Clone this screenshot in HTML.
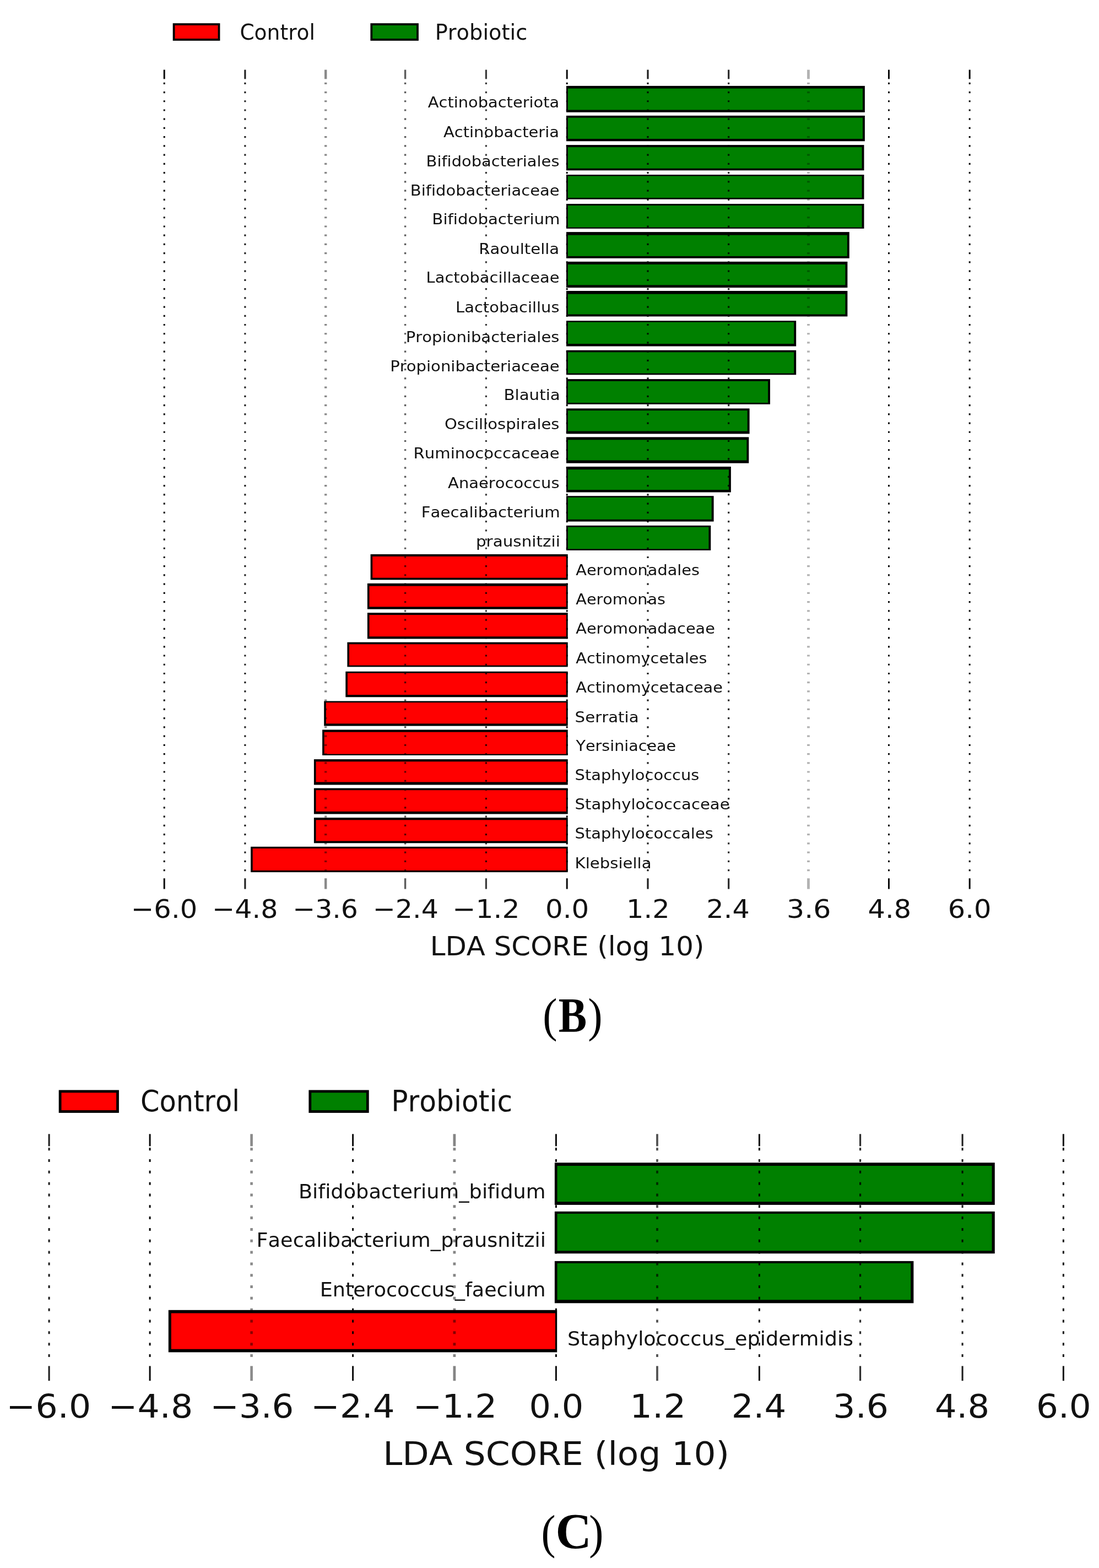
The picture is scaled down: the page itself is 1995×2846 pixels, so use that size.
<!DOCTYPE html>
<html lang="en"><head><meta charset="utf-8"><title>LEfSe LDA scores</title>
<style>
html,body{margin:0;padding:0;background:#fff}
body{width:1995px;height:2846px;overflow:hidden}
svg{display:block}
text{font-family:"DejaVu Sans", "Liberation Sans", sans-serif;font-kerning:none;font-variant-ligatures:none;font-feature-settings:'liga' 0,'kern' 0,'clig' 0}
text.pn{font-family:"Liberation Serif", "DejaVu Serif", serif}
</style>
</head><body>
<svg width="1995" height="2846" viewBox="0 0 1995 2846">
<rect width="1995" height="2846" fill="#fff"/>
<defs><filter id="soft" x="-3%" y="-3%" width="106%" height="106%" color-interpolation-filters="sRGB"><feGaussianBlur stdDeviation="0.7"/></filter></defs>
<g id="chart-b" filter="url(#soft)">
<rect x="1028.00" y="155.90" width="541.90" height="47.90" fill="#000"/>
<rect x="1030.80" y="160.60" width="535.20" height="38.90" fill="#008000"/>
<rect x="1028.00" y="209.90" width="541.90" height="46.40" fill="#000"/>
<rect x="1030.80" y="213.70" width="535.20" height="38.30" fill="#008000"/>
<rect x="1028.00" y="263.10" width="540.50" height="46.20" fill="#000"/>
<rect x="1030.80" y="267.10" width="533.80" height="38.60" fill="#008000"/>
<rect x="1028.00" y="317.10" width="540.50" height="44.60" fill="#000"/>
<rect x="1030.80" y="319.50" width="533.80" height="39.50" fill="#008000"/>
<rect x="1028.00" y="370.00" width="540.50" height="44.90" fill="#000"/>
<rect x="1030.80" y="373.00" width="533.80" height="39.70" fill="#008000"/>
<rect x="1028.00" y="421.10" width="513.80" height="47.70" fill="#000"/>
<rect x="1030.80" y="426.70" width="507.10" height="38.20" fill="#008000"/>
<rect x="1028.00" y="474.90" width="510.40" height="47.20" fill="#000"/>
<rect x="1030.80" y="479.90" width="503.70" height="37.50" fill="#008000"/>
<rect x="1028.00" y="528.00" width="510.40" height="46.40" fill="#000"/>
<rect x="1030.80" y="533.70" width="503.70" height="36.80" fill="#008000"/>
<rect x="1028.00" y="582.20" width="417.20" height="46.30" fill="#000"/>
<rect x="1030.80" y="584.70" width="410.50" height="39.30" fill="#008000"/>
<rect x="1028.00" y="635.70" width="417.20" height="44.60" fill="#000"/>
<rect x="1030.80" y="639.30" width="410.50" height="38.30" fill="#008000"/>
<rect x="1028.00" y="688.10" width="370.00" height="45.70" fill="#000"/>
<rect x="1030.80" y="691.80" width="363.30" height="39.20" fill="#008000"/>
<rect x="1028.00" y="741.40" width="332.60" height="46.00" fill="#000"/>
<rect x="1030.80" y="745.10" width="325.90" height="37.50" fill="#008000"/>
<rect x="1028.00" y="793.40" width="331.30" height="47.30" fill="#000"/>
<rect x="1030.80" y="798.30" width="324.60" height="37.20" fill="#008000"/>
<rect x="1028.00" y="847.00" width="298.90" height="46.50" fill="#000"/>
<rect x="1030.80" y="852.20" width="292.20" height="36.90" fill="#008000"/>
<rect x="1028.00" y="900.20" width="267.60" height="46.40" fill="#000"/>
<rect x="1030.80" y="902.80" width="260.90" height="40.00" fill="#008000"/>
<rect x="1028.00" y="953.90" width="262.30" height="45.00" fill="#000"/>
<rect x="1030.80" y="956.70" width="255.60" height="39.70" fill="#008000"/>
<rect x="672.60" y="1006.00" width="358.10" height="46.40" fill="#000"/>
<rect x="676.20" y="1010.00" width="351.70" height="38.70" fill="#f00"/>
<rect x="666.90" y="1058.90" width="363.80" height="46.80" fill="#000"/>
<rect x="670.50" y="1063.70" width="357.40" height="37.70" fill="#f00"/>
<rect x="666.90" y="1112.20" width="363.80" height="47.30" fill="#000"/>
<rect x="670.50" y="1116.10" width="357.40" height="39.20" fill="#f00"/>
<rect x="630.40" y="1165.70" width="400.30" height="44.70" fill="#000"/>
<rect x="634.00" y="1169.30" width="393.90" height="38.40" fill="#f00"/>
<rect x="627.30" y="1218.80" width="403.40" height="46.50" fill="#000"/>
<rect x="630.90" y="1221.70" width="397.00" height="39.50" fill="#f00"/>
<rect x="588.20" y="1272.50" width="442.50" height="45.10" fill="#000"/>
<rect x="591.80" y="1275.10" width="436.10" height="38.30" fill="#f00"/>
<rect x="585.10" y="1324.50" width="445.60" height="46.40" fill="#000"/>
<rect x="588.70" y="1328.70" width="439.20" height="39.90" fill="#f00"/>
<rect x="569.90" y="1378.10" width="460.80" height="46.40" fill="#000"/>
<rect x="573.50" y="1382.30" width="454.40" height="37.20" fill="#f00"/>
<rect x="569.90" y="1430.60" width="460.80" height="46.90" fill="#000"/>
<rect x="573.50" y="1434.20" width="454.40" height="38.70" fill="#f00"/>
<rect x="569.90" y="1484.10" width="460.80" height="46.20" fill="#000"/>
<rect x="573.50" y="1488.30" width="454.40" height="38.20" fill="#f00"/>
<rect x="455.10" y="1536.80" width="575.60" height="46.30" fill="#000"/>
<rect x="458.70" y="1540.00" width="569.20" height="39.90" fill="#f00"/>
<line x1="298.20" y1="126.60" x2="298.20" y2="143.40" stroke="#000" stroke-opacity="0.96" stroke-width="3.0"/>
<line x1="298.20" y1="1594.20" x2="298.20" y2="1613.60" stroke="#000" stroke-opacity="0.96" stroke-width="3.0"/>
<line x1="298.20" y1="149.70" x2="298.20" y2="1584.00" stroke="#000" stroke-opacity="0.96" stroke-width="3.0" stroke-dasharray="3.2 13.03"/>
<line x1="444.90" y1="126.60" x2="444.90" y2="143.40" stroke="#000" stroke-opacity="0.88" stroke-width="3.1"/>
<line x1="444.90" y1="1594.20" x2="444.90" y2="1613.60" stroke="#000" stroke-opacity="0.88" stroke-width="3.1"/>
<line x1="444.90" y1="149.70" x2="444.90" y2="1584.00" stroke="#000" stroke-opacity="0.88" stroke-width="3.1" stroke-dasharray="3.2 13.03"/>
<line x1="591.20" y1="126.60" x2="591.20" y2="143.40" stroke="#000" stroke-opacity="0.46" stroke-width="4.4"/>
<line x1="591.20" y1="1594.20" x2="591.20" y2="1613.60" stroke="#000" stroke-opacity="0.46" stroke-width="4.4"/>
<line x1="591.20" y1="149.70" x2="591.20" y2="1584.00" stroke="#000" stroke-opacity="0.46" stroke-width="4.4" stroke-dasharray="3.2 13.03"/>
<line x1="735.60" y1="126.60" x2="735.60" y2="143.40" stroke="#000" stroke-opacity="0.64" stroke-width="3.4"/>
<line x1="735.60" y1="1594.20" x2="735.60" y2="1613.60" stroke="#000" stroke-opacity="0.64" stroke-width="3.4"/>
<line x1="735.60" y1="149.70" x2="735.60" y2="1584.00" stroke="#000" stroke-opacity="0.64" stroke-width="3.4" stroke-dasharray="3.2 13.03"/>
<line x1="882.40" y1="126.60" x2="882.40" y2="143.40" stroke="#000" stroke-opacity="0.76" stroke-width="3.3"/>
<line x1="882.40" y1="1594.20" x2="882.40" y2="1613.60" stroke="#000" stroke-opacity="0.76" stroke-width="3.3"/>
<line x1="882.40" y1="149.70" x2="882.40" y2="1584.00" stroke="#000" stroke-opacity="0.76" stroke-width="3.3" stroke-dasharray="3.2 13.03"/>
<line x1="1029.20" y1="126.60" x2="1029.20" y2="143.40" stroke="#000" stroke-opacity="0.96" stroke-width="3.0"/>
<line x1="1029.20" y1="1594.20" x2="1029.20" y2="1613.60" stroke="#000" stroke-opacity="0.96" stroke-width="3.0"/>
<line x1="1029.20" y1="149.70" x2="1029.20" y2="1584.00" stroke="#000" stroke-opacity="0.96" stroke-width="3.0" stroke-dasharray="3.2 13.03"/>
<line x1="1176.00" y1="126.60" x2="1176.00" y2="143.40" stroke="#000" stroke-opacity="0.88" stroke-width="3.2"/>
<line x1="1176.00" y1="1594.20" x2="1176.00" y2="1613.60" stroke="#000" stroke-opacity="0.88" stroke-width="3.2"/>
<line x1="1176.00" y1="149.70" x2="1176.00" y2="1584.00" stroke="#000" stroke-opacity="0.88" stroke-width="3.2" stroke-dasharray="3.2 13.03"/>
<line x1="1322.70" y1="126.60" x2="1322.70" y2="143.40" stroke="#000" stroke-opacity="0.84" stroke-width="3.2"/>
<line x1="1322.70" y1="1594.20" x2="1322.70" y2="1613.60" stroke="#000" stroke-opacity="0.84" stroke-width="3.2"/>
<line x1="1322.70" y1="149.70" x2="1322.70" y2="1584.00" stroke="#000" stroke-opacity="0.84" stroke-width="3.2" stroke-dasharray="3.2 13.03"/>
<line x1="1467.50" y1="126.60" x2="1467.50" y2="143.40" stroke="#000" stroke-opacity="0.3" stroke-width="4.8"/>
<line x1="1467.50" y1="1594.20" x2="1467.50" y2="1613.60" stroke="#000" stroke-opacity="0.3" stroke-width="4.8"/>
<line x1="1467.50" y1="149.70" x2="1467.50" y2="1584.00" stroke="#000" stroke-opacity="0.3" stroke-width="4.8" stroke-dasharray="3.2 13.03"/>
<line x1="1613.50" y1="126.60" x2="1613.50" y2="143.40" stroke="#000" stroke-opacity="0.96" stroke-width="3.0"/>
<line x1="1613.50" y1="1594.20" x2="1613.50" y2="1613.60" stroke="#000" stroke-opacity="0.96" stroke-width="3.0"/>
<line x1="1613.50" y1="149.70" x2="1613.50" y2="1584.00" stroke="#000" stroke-opacity="0.96" stroke-width="3.0" stroke-dasharray="3.2 13.03"/>
<line x1="1760.20" y1="126.60" x2="1760.20" y2="143.40" stroke="#000" stroke-opacity="0.96" stroke-width="3.0"/>
<line x1="1760.20" y1="1594.20" x2="1760.20" y2="1613.60" stroke="#000" stroke-opacity="0.96" stroke-width="3.0"/>
<line x1="1760.20" y1="149.70" x2="1760.20" y2="1584.00" stroke="#000" stroke-opacity="0.96" stroke-width="3.0" stroke-dasharray="3.2 13.03"/>
<text class="yl" x="776.77" y="195.20" font-size="26.0" textLength="238.45" lengthAdjust="spacingAndGlyphs" fill="#111">Actinobacteriota</text>
<text class="yl" x="805.07" y="249.00" font-size="26.0" textLength="209.85" lengthAdjust="spacingAndGlyphs" fill="#111">Actinobacteria</text>
<text class="yl" x="773.56" y="302.30" font-size="26.0" textLength="241.95" lengthAdjust="spacingAndGlyphs" fill="#111">Bifidobacteriales</text>
<text class="yl" x="744.75" y="355.10" font-size="26.0" textLength="270.89" lengthAdjust="spacingAndGlyphs" fill="#111">Bifidobacteriaceae</text>
<text class="yl" x="784.33" y="406.50" font-size="26.0" textLength="232.25" lengthAdjust="spacingAndGlyphs" fill="#111">Bifidobacterium</text>
<text class="yl" x="869.24" y="461.00" font-size="26.0" textLength="146.01" lengthAdjust="spacingAndGlyphs" fill="#111">Raoultella</text>
<text class="yl" x="773.56" y="513.40" font-size="26.0" textLength="242.08" lengthAdjust="spacingAndGlyphs" fill="#111">Lactobacillaceae</text>
<text class="yl" x="827.06" y="566.70" font-size="26.0" textLength="188.46" lengthAdjust="spacingAndGlyphs" fill="#111">Lactobacillus</text>
<text class="yl" x="736.74" y="620.50" font-size="26.0" textLength="278.78" lengthAdjust="spacingAndGlyphs" fill="#111">Propionibacteriales</text>
<text class="yl" x="708.24" y="674.00" font-size="26.0" textLength="307.41" lengthAdjust="spacingAndGlyphs" fill="#111">Propionibacteriaceae</text>
<text class="yl" x="914.42" y="726.20" font-size="26.0" textLength="102.34" lengthAdjust="spacingAndGlyphs" fill="#111">Blautia</text>
<text class="yl" x="806.97" y="778.80" font-size="26.0" textLength="208.55" lengthAdjust="spacingAndGlyphs" fill="#111">Oscillospirales</text>
<text class="yl" x="750.64" y="832.20" font-size="26.0" textLength="265.01" lengthAdjust="spacingAndGlyphs" fill="#111">Ruminococcaceae</text>
<text class="yl" x="813.07" y="885.50" font-size="26.0" textLength="202.44" lengthAdjust="spacingAndGlyphs" fill="#111">Anaerococcus</text>
<text class="yl" x="764.83" y="939.30" font-size="26.0" textLength="251.75" lengthAdjust="spacingAndGlyphs" fill="#111">Faecalibacterium</text>
<text class="yl" x="863.93" y="992.30" font-size="26.0" textLength="152.93" lengthAdjust="spacingAndGlyphs" fill="#111">prausnitzii</text>
<text class="yl" x="1045.28" y="1043.50" font-size="26.0" textLength="224.73" lengthAdjust="spacingAndGlyphs" fill="#111">Aeromonadales</text>
<text class="yl" x="1045.28" y="1097.30" font-size="26.0" textLength="162.72" lengthAdjust="spacingAndGlyphs" fill="#111">Aeromonas</text>
<text class="yl" x="1045.28" y="1150.10" font-size="26.0" textLength="252.55" lengthAdjust="spacingAndGlyphs" fill="#111">Aeromonadaceae</text>
<text class="yl" x="1045.28" y="1204.00" font-size="26.0" textLength="238.23" lengthAdjust="spacingAndGlyphs" fill="#111">Actinomycetales</text>
<text class="yl" x="1045.28" y="1257.40" font-size="26.0" textLength="266.65" lengthAdjust="spacingAndGlyphs" fill="#111">Actinomycetaceae</text>
<text class="yl" x="1043.57" y="1310.70" font-size="26.0" textLength="116.09" lengthAdjust="spacingAndGlyphs" fill="#111">Serratia</text>
<text class="yl" x="1045.56" y="1362.50" font-size="26.0" textLength="181.57" lengthAdjust="spacingAndGlyphs" fill="#111">Yersiniaceae</text>
<text class="yl" x="1043.59" y="1415.60" font-size="26.0" textLength="225.82" lengthAdjust="spacingAndGlyphs" fill="#111">Staphylococcus</text>
<text class="yl" x="1043.58" y="1469.00" font-size="26.0" textLength="280.97" lengthAdjust="spacingAndGlyphs" fill="#111">Staphylococcaceae</text>
<text class="yl" x="1043.59" y="1522.20" font-size="26.0" textLength="251.22" lengthAdjust="spacingAndGlyphs" fill="#111">Staphylococcales</text>
<text class="yl" x="1043.64" y="1575.50" font-size="26.0" textLength="138.91" lengthAdjust="spacingAndGlyphs" fill="#111">Klebsiella</text>
<text x="237.85" y="1666.20" font-size="46.5" textLength="120.34" lengthAdjust="spacingAndGlyphs" fill="#111">−6.0</text>
<text x="385.09" y="1666.20" font-size="46.5" textLength="119.37" lengthAdjust="spacingAndGlyphs" fill="#111">−4.8</text>
<text x="531.32" y="1666.20" font-size="46.5" textLength="118.66" lengthAdjust="spacingAndGlyphs" fill="#111">−3.6</text>
<text x="676.81" y="1666.20" font-size="46.5" textLength="119.05" lengthAdjust="spacingAndGlyphs" fill="#111">−2.4</text>
<text x="821.26" y="1666.20" font-size="46.5" textLength="122.28" lengthAdjust="spacingAndGlyphs" fill="#111">−1.2</text>
<text x="990.01" y="1666.20" font-size="46.5" textLength="79.30" lengthAdjust="spacingAndGlyphs" fill="#111">0.0</text>
<text x="1137.07" y="1666.20" font-size="46.5" textLength="78.57" lengthAdjust="spacingAndGlyphs" fill="#111">1.2</text>
<text x="1282.39" y="1666.20" font-size="46.5" textLength="78.38" lengthAdjust="spacingAndGlyphs" fill="#111">2.4</text>
<text x="1427.94" y="1666.20" font-size="46.5" textLength="80.55" lengthAdjust="spacingAndGlyphs" fill="#111">3.6</text>
<text x="1575.59" y="1666.20" font-size="46.5" textLength="78.48" lengthAdjust="spacingAndGlyphs" fill="#111">4.8</text>
<text x="1720.75" y="1666.20" font-size="46.5" textLength="78.64" lengthAdjust="spacingAndGlyphs" fill="#111">6.0</text>
<text x="780.71" y="1733.60" font-size="48" textLength="497.67" lengthAdjust="spacingAndGlyphs" fill="#111">LDA SCORE (log 10)</text>
<rect x="315.60" y="44.10" width="81.90" height="27.90" fill="#f00" stroke="#000" stroke-width="3.8"/>
<text x="435.39" y="71.50" font-size="39.5" textLength="136.63" lengthAdjust="spacingAndGlyphs" fill="#111">Control</text>
<rect x="674.30" y="44.10" width="83.70" height="27.90" fill="#008000" stroke="#000" stroke-width="3.8"/>
<text x="789.63" y="71.50" font-size="39.5" textLength="167.75" lengthAdjust="spacingAndGlyphs" fill="#111">Probiotic</text>
</g>
<text class="pn" fill="#000"><tspan x="985.23" y="1872.00" font-size="87" textLength="26.32" lengthAdjust="spacingAndGlyphs">(</tspan><tspan x="1013.72" y="1872.00" font-size="89" textLength="51.43" lengthAdjust="spacingAndGlyphs" font-weight="bold">B</tspan><tspan x="1067.35" y="1872.00" font-size="87" textLength="26.32" lengthAdjust="spacingAndGlyphs">)</tspan></text>
<g id="chart-c" filter="url(#soft)">
<rect x="1006.90" y="2110.30" width="798.90" height="76.60" fill="#000"/>
<rect x="1011.50" y="2116.00" width="789.10" height="65.20" fill="#008000"/>
<rect x="1006.90" y="2198.90" width="798.90" height="76.30" fill="#000"/>
<rect x="1011.50" y="2203.00" width="789.10" height="67.30" fill="#008000"/>
<rect x="1006.90" y="2288.90" width="651.50" height="76.40" fill="#000"/>
<rect x="1011.50" y="2292.90" width="641.70" height="66.40" fill="#008000"/>
<rect x="305.80" y="2377.80" width="705.40" height="76.60" fill="#000"/>
<rect x="310.80" y="2383.50" width="697.20" height="65.20" fill="#f00"/>
<line x1="89.10" y1="2058.30" x2="89.10" y2="2080.40" stroke="#000" stroke-opacity="0.88" stroke-width="3.1"/>
<line x1="89.10" y1="2479.40" x2="89.10" y2="2506.20" stroke="#000" stroke-opacity="0.88" stroke-width="3.1"/>
<line x1="89.10" y1="2083.20" x2="89.10" y2="2470.00" stroke="#000" stroke-opacity="0.88" stroke-width="3.1" stroke-dasharray="5.0 15.82"/>
<line x1="272.10" y1="2058.30" x2="272.10" y2="2080.40" stroke="#000" stroke-opacity="0.96" stroke-width="3.0"/>
<line x1="272.10" y1="2479.40" x2="272.10" y2="2506.20" stroke="#000" stroke-opacity="0.96" stroke-width="3.0"/>
<line x1="272.10" y1="2083.20" x2="272.10" y2="2470.00" stroke="#000" stroke-opacity="0.96" stroke-width="3.0" stroke-dasharray="5.0 15.82"/>
<line x1="456.60" y1="2058.30" x2="456.60" y2="2080.40" stroke="#000" stroke-opacity="0.46" stroke-width="4.6"/>
<line x1="456.60" y1="2479.40" x2="456.60" y2="2506.20" stroke="#000" stroke-opacity="0.46" stroke-width="4.6"/>
<line x1="456.60" y1="2083.20" x2="456.60" y2="2470.00" stroke="#000" stroke-opacity="0.46" stroke-width="4.6" stroke-dasharray="5.0 15.82"/>
<line x1="640.60" y1="2058.30" x2="640.60" y2="2080.40" stroke="#000" stroke-opacity="0.96" stroke-width="3.0"/>
<line x1="640.60" y1="2479.40" x2="640.60" y2="2506.20" stroke="#000" stroke-opacity="0.96" stroke-width="3.0"/>
<line x1="640.60" y1="2083.20" x2="640.60" y2="2470.00" stroke="#000" stroke-opacity="0.96" stroke-width="3.0" stroke-dasharray="5.0 15.82"/>
<line x1="824.90" y1="2058.30" x2="824.90" y2="2080.40" stroke="#000" stroke-opacity="0.48" stroke-width="4.8"/>
<line x1="824.90" y1="2479.40" x2="824.90" y2="2506.20" stroke="#000" stroke-opacity="0.48" stroke-width="4.8"/>
<line x1="824.90" y1="2083.20" x2="824.90" y2="2470.00" stroke="#000" stroke-opacity="0.48" stroke-width="4.8" stroke-dasharray="5.0 15.82"/>
<line x1="1009.40" y1="2058.30" x2="1009.40" y2="2080.40" stroke="#000" stroke-opacity="0.96" stroke-width="3.0"/>
<line x1="1009.40" y1="2479.40" x2="1009.40" y2="2506.20" stroke="#000" stroke-opacity="0.96" stroke-width="3.0"/>
<line x1="1009.40" y1="2083.20" x2="1009.40" y2="2470.00" stroke="#000" stroke-opacity="0.96" stroke-width="3.0" stroke-dasharray="5.0 15.82"/>
<line x1="1193.00" y1="2058.30" x2="1193.00" y2="2080.40" stroke="#000" stroke-opacity="0.68" stroke-width="3.8"/>
<line x1="1193.00" y1="2479.40" x2="1193.00" y2="2506.20" stroke="#000" stroke-opacity="0.68" stroke-width="3.8"/>
<line x1="1193.00" y1="2083.20" x2="1193.00" y2="2470.00" stroke="#000" stroke-opacity="0.68" stroke-width="3.8" stroke-dasharray="5.0 15.82"/>
<line x1="1378.40" y1="2058.30" x2="1378.40" y2="2080.40" stroke="#000" stroke-opacity="0.96" stroke-width="3.0"/>
<line x1="1378.40" y1="2479.40" x2="1378.40" y2="2506.20" stroke="#000" stroke-opacity="0.96" stroke-width="3.0"/>
<line x1="1378.40" y1="2083.20" x2="1378.40" y2="2470.00" stroke="#000" stroke-opacity="0.96" stroke-width="3.0" stroke-dasharray="5.0 15.82"/>
<line x1="1561.60" y1="2058.30" x2="1561.60" y2="2080.40" stroke="#000" stroke-opacity="0.82" stroke-width="3.2"/>
<line x1="1561.60" y1="2479.40" x2="1561.60" y2="2506.20" stroke="#000" stroke-opacity="0.82" stroke-width="3.2"/>
<line x1="1561.60" y1="2083.20" x2="1561.60" y2="2470.00" stroke="#000" stroke-opacity="0.82" stroke-width="3.2" stroke-dasharray="5.0 15.82"/>
<line x1="1747.10" y1="2058.30" x2="1747.10" y2="2080.40" stroke="#000" stroke-opacity="0.88" stroke-width="3.1"/>
<line x1="1747.10" y1="2479.40" x2="1747.10" y2="2506.20" stroke="#000" stroke-opacity="0.88" stroke-width="3.1"/>
<line x1="1747.10" y1="2083.20" x2="1747.10" y2="2470.00" stroke="#000" stroke-opacity="0.88" stroke-width="3.1" stroke-dasharray="5.0 15.82"/>
<line x1="1930.40" y1="2058.30" x2="1930.40" y2="2080.40" stroke="#000" stroke-opacity="0.96" stroke-width="3.0"/>
<line x1="1930.40" y1="2479.40" x2="1930.40" y2="2506.20" stroke="#000" stroke-opacity="0.96" stroke-width="3.0"/>
<line x1="1930.40" y1="2083.20" x2="1930.40" y2="2470.00" stroke="#000" stroke-opacity="0.96" stroke-width="3.0" stroke-dasharray="5.0 15.82"/>
<text class="yl" x="541.90" y="2175.00" font-size="36" textLength="448.62" lengthAdjust="spacingAndGlyphs" fill="#111">Bifidobacterium_bifidum</text>
<text class="yl" x="465.50" y="2263.40" font-size="36" textLength="525.34" lengthAdjust="spacingAndGlyphs" fill="#111">Faecalibacterium_prausnitzii</text>
<text class="yl" x="580.72" y="2352.90" font-size="36" textLength="409.78" lengthAdjust="spacingAndGlyphs" fill="#111">Enterococcus_faecium</text>
<text class="yl" x="1029.99" y="2442.40" font-size="36" textLength="519.20" lengthAdjust="spacingAndGlyphs" fill="#111">Staphylococcus_epidermidis</text>
<text x="11.60" y="2572.80" font-size="59.2" textLength="153.60" lengthAdjust="spacingAndGlyphs" fill="#111">−6.0</text>
<text x="196.49" y="2572.80" font-size="59.2" textLength="153.74" lengthAdjust="spacingAndGlyphs" fill="#111">−4.8</text>
<text x="381.47" y="2572.80" font-size="59.2" textLength="151.97" lengthAdjust="spacingAndGlyphs" fill="#111">−3.6</text>
<text x="564.36" y="2572.80" font-size="59.2" textLength="152.27" lengthAdjust="spacingAndGlyphs" fill="#111">−2.4</text>
<text x="749.96" y="2572.80" font-size="59.2" textLength="152.22" lengthAdjust="spacingAndGlyphs" fill="#111">−1.2</text>
<text x="960.51" y="2572.80" font-size="59.2" textLength="98.71" lengthAdjust="spacingAndGlyphs" fill="#111">0.0</text>
<text x="1143.37" y="2572.80" font-size="59.2" textLength="101.73" lengthAdjust="spacingAndGlyphs" fill="#111">1.2</text>
<text x="1327.82" y="2572.80" font-size="59.2" textLength="99.50" lengthAdjust="spacingAndGlyphs" fill="#111">2.4</text>
<text x="1512.38" y="2572.80" font-size="59.2" textLength="100.71" lengthAdjust="spacingAndGlyphs" fill="#111">3.6</text>
<text x="1696.95" y="2572.80" font-size="59.2" textLength="99.21" lengthAdjust="spacingAndGlyphs" fill="#111">4.8</text>
<text x="1880.91" y="2572.80" font-size="59.2" textLength="99.96" lengthAdjust="spacingAndGlyphs" fill="#111">6.0</text>
<text x="695.22" y="2658.80" font-size="58.5" textLength="628.79" lengthAdjust="spacingAndGlyphs" fill="#111">LDA SCORE (log 10)</text>
<rect x="109.10" y="1980.90" width="104.40" height="36.60" fill="#f00" stroke="#000" stroke-width="4.8"/>
<text x="254.92" y="2017.40" font-size="52.5" textLength="180.12" lengthAdjust="spacingAndGlyphs" fill="#111">Control</text>
<rect x="562.80" y="1980.90" width="104.50" height="36.60" fill="#008000" stroke="#000" stroke-width="4.8"/>
<text x="710.26" y="2017.40" font-size="52.5" textLength="219.86" lengthAdjust="spacingAndGlyphs" fill="#111">Probiotic</text>
</g>
<text class="pn" fill="#000"><tspan x="982.56" y="2810.00" font-size="87" textLength="26.06" lengthAdjust="spacingAndGlyphs">(</tspan><tspan x="1008.58" y="2810.00" font-size="91" textLength="65.30" lengthAdjust="spacingAndGlyphs" font-weight="bold">C</tspan><tspan x="1069.27" y="2810.00" font-size="87" textLength="26.19" lengthAdjust="spacingAndGlyphs">)</tspan></text>
</svg></body></html>
